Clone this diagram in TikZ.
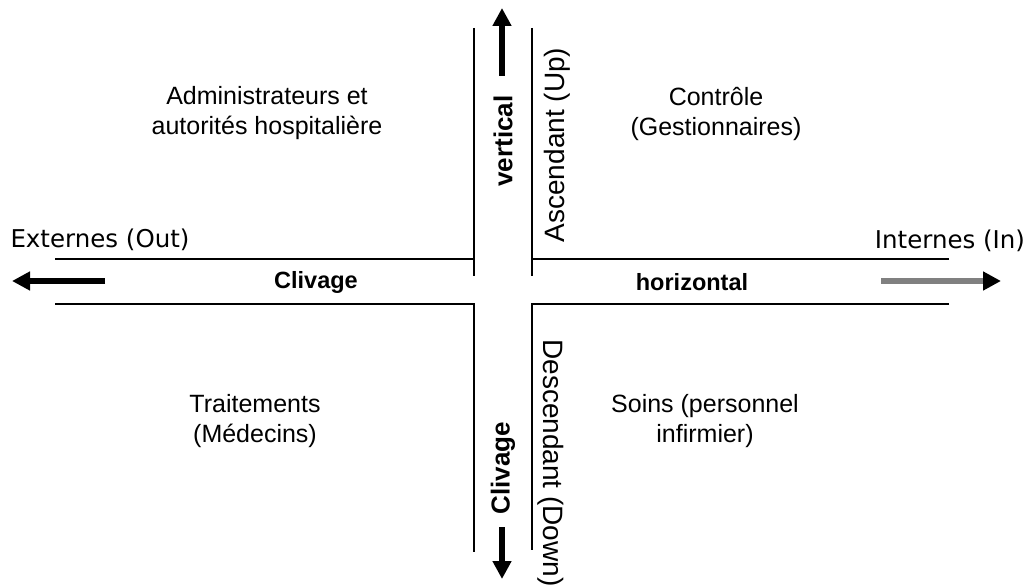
\documentclass[tikz,border=0pt]{standalone}
\usepackage{fontspec}
\setmainfont{Liberation Sans}
\newfontfamily\sidefont{DejaVu Sans}
\usetikzlibrary{arrows.meta}
\tikzstyle{quad} = [align=center, inner sep=0pt, font=\fontsize{25}{30}\selectfont]
\tikzstyle{axis} = [inner sep=0pt, font=\bfseries\fontsize{23.5}{27}\selectfont]
\tikzstyle{vaxis} = [inner sep=0pt, rotate=90, font=\bfseries\fontsize{26}{30}\selectfont]
\tikzstyle{side} = [inner sep=0pt, font=\sidefont\fontsize{24.5}{28}\selectfont]
\tikzstyle{dir} = [inner sep=0pt, font=\fontsize{28}{32}\selectfont]
\tikzstyle{wall} = [line width=2pt]
\tikzstyle{flow} = [line width=6.5pt, -{Triangle[length=18pt,width=18pt,color=black]}]

\begin{document}
\begin{tikzpicture}[x=1pt,y=-1pt]
    \useasboundingbox (0,0) rectangle (1030,588);
    % quadrant labels
    \node[quad] (admin) at (267,113) {Administrateurs et\\autorités hospitalière};
    \node[quad] (ctrl) at (716,114) {Contrôle\\(Gestionnaires)};
    \node[quad] (trait) at (255,421) {Traitements\\(Médecins)};
    \node[quad] (soins) at (705,421) {Soins (personnel\\infirmier)};
    % axis labels
    \node[side] (ext) at (100,240) {Externes (Out)};
    \node[side] (int) at (950,241) {Internes (In)};
    \node[axis] (clivh) at (316,282) {Clivage};
    \node[axis] (horiz) at (692,282) {horizontal};
    \node[vaxis] (vert) at (503,141) {vertical};
    \node[vaxis] (clivv) at (503,468) {Clivage};
    \node[dir,rotate=90] (up) at (557,145) {Ascendant (Up)};
    \node[dir,rotate=-90] (down) at (551,463) {Descendant (Down)};
    % walls
    \coordinate (nwtop) at (474,28);  \coordinate (netop) at (532,28);
    \coordinate (nwend) at (474,276); \coordinate (neend) at (532,276);
    \coordinate (wup) at (55,259);    \coordinate (eup) at (949,259);
    \coordinate (wlo) at (55,304);    \coordinate (elo) at (949,304);
    \coordinate (swbot) at (474,552); \coordinate (sebot) at (532,550);
    \draw[wall] (nwtop) -- (nwend);
    \draw[wall] (netop) -- (neend);
    \draw[wall] (wup) -- (wup -| nwtop);
    \draw[wall] (eup) -- (eup -| netop);
    \draw[wall] (wlo) -- (wlo -| swbot) -- (swbot);
    \draw[wall] (elo) -- (elo -| sebot) -- (sebot);
    % arrows
    \coordinate (upfrom) at (502,76);   \coordinate (upto) at (502,8);
    \coordinate (dnfrom) at (502,527);  \coordinate (dnto) at (502,579);
    \coordinate (lfrom) at (105,281);   \coordinate (lto) at (12,281);
    \coordinate (rfrom) at (881,281);   \coordinate (rto) at (1001,281);
    \draw[flow] (upfrom) -- (upto);
    \draw[flow] (dnfrom) -- (dnto);
    \draw[flow] (lfrom) -- (lto);
    \draw[flow,draw=black!50] (rfrom) -- (rto);
\end{tikzpicture}
\end{document}
